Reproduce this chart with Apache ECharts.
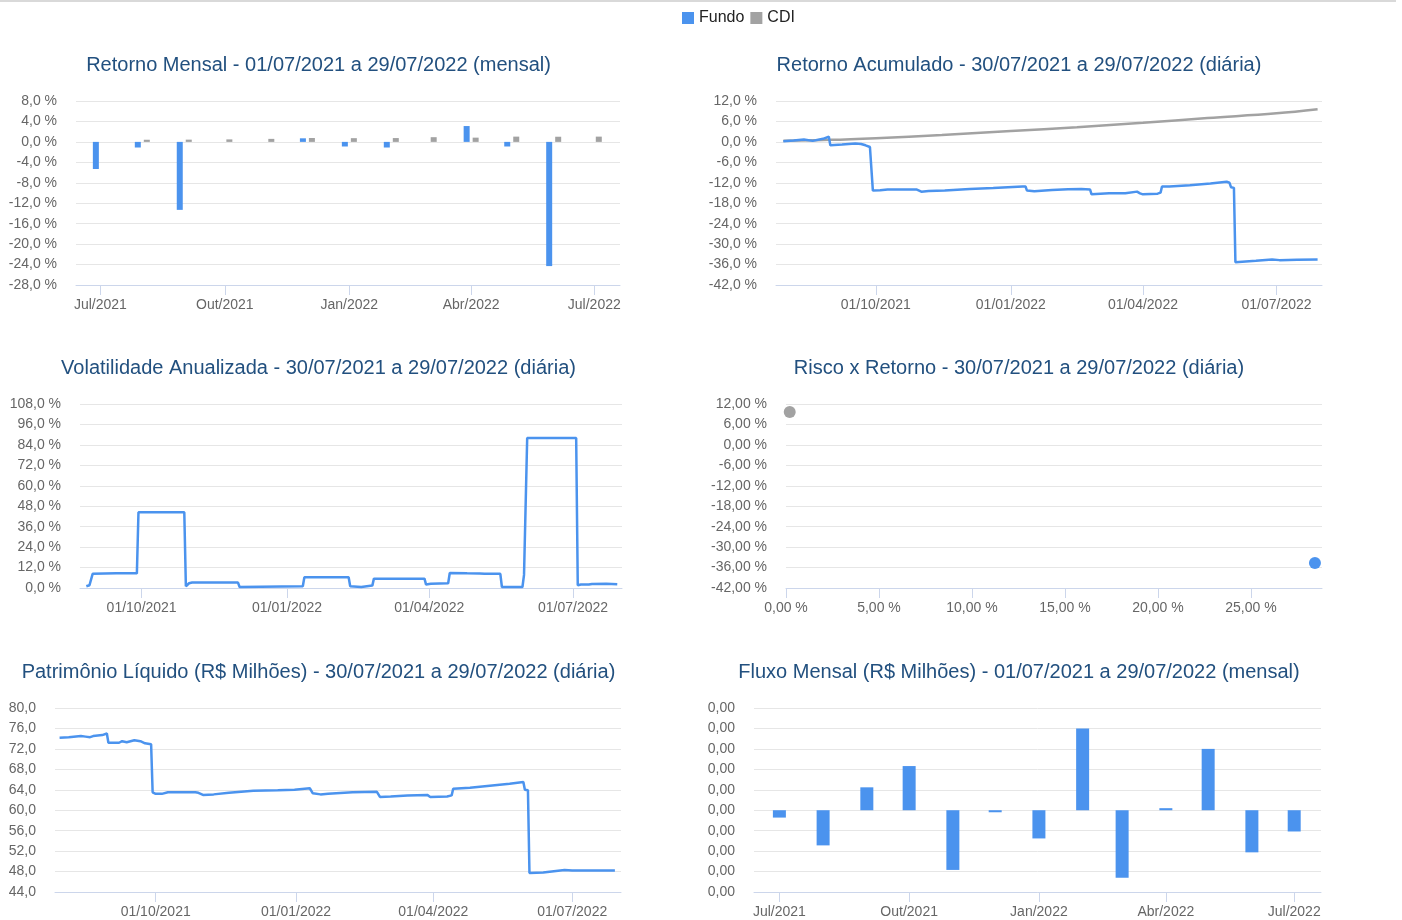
<!DOCTYPE html>
<html>
<head>
<meta charset="utf-8">
<title>Fundo x CDI</title>
<script src="https://cdn.jsdelivr.net/npm/echarts@6/dist/echarts.min.js"></script>
<style>
  html, body { margin: 0; padding: 0; background: #ffffff; }
  #chart { width: 1402px; height: 920px; }
</style>
</head>
<body>
<div id="chart"></div>
<script>
// ---------- data ----------
const seriesNames = ['Fundo', 'CDI'];

// month starts used by the monthly charts
const monthlyDates = ['2021-07-01', '2021-08-01', '2021-09-01', '2021-10-01', '2021-11-01', '2021-12-01',
  '2022-01-01', '2022-02-01', '2022-03-01', '2022-04-01', '2022-05-01', '2022-06-01', '2022-07-01'];

// axis tick positions
const monthTicks = ['2021-07-01', '2021-10-01', '2022-01-01', '2022-04-01', '2022-07-01'];
const dayTicks = ['2021-10-01', '2022-01-01', '2022-04-01', '2022-07-01'];
const riskTicks = [0, 5, 10, 15, 20, 25];

// Retorno Mensal (%)
const retornoMensalFundo = [-5.3, -1.1, -13.3, 0, 0, 0.7, -0.9, -1.1, 0, 3.1, -0.9, -24.3, 0];
const retornoMensalCDI = [null, 0.42, 0.44, 0.49, 0.59, 0.76, 0.73, 0.75, 0.92, 0.83, 1.03, 1.01, 1.03];

// Retorno Acumulado (%) - Fundo
const acumFundoDatas = ['2021-07-30', '2021-08-06', '2021-08-13', '2021-08-19', '2021-08-26', '2021-08-30',
  '2021-08-31', '2021-09-08', '2021-09-17', '2021-09-21', '2021-09-24', '2021-09-27', '2021-09-28',
  '2021-09-29', '2021-09-30', '2021-10-04', '2021-10-09', '2021-10-29', '2021-11-01', '2021-11-06',
  '2021-11-17', '2021-12-04', '2021-12-20', '2022-01-09', '2022-01-11', '2022-01-12', '2022-01-17',
  '2022-01-29', '2022-02-09', '2022-02-18', '2022-02-24', '2022-02-25', '2022-03-09', '2022-03-20',
  '2022-03-28', '2022-03-30', '2022-04-01', '2022-04-11', '2022-04-13', '2022-04-14', '2022-04-19',
  '2022-05-03', '2022-05-17', '2022-05-28', '2022-05-30', '2022-05-31', '2022-06-02', '2022-06-03',
  '2022-06-04', '2022-06-17', '2022-06-28', '2022-07-03', '2022-07-15', '2022-07-29'];
const acumFundoValores = [0.2, 0.4, 0.7, 0.3, 0.9, 1.5,
  -1.0, -0.8, -0.5, -0.6, -1.0, -1.5, -1.7,
  -14.3, -14.4, -14.2, -14.0, -14.0, -14.6, -14.4,
  -14.3, -13.8, -13.5, -13.1, -13.1, -14.3, -14.5,
  -14.1, -13.9, -13.8, -14.0, -15.4, -15.1, -15.1,
  -14.6, -15.1, -15.4, -15.2, -14.9, -13.1, -13.1,
  -12.7, -12.2, -11.7, -12.0, -13.3, -13.5, -35.3,
  -35.1, -34.9, -34.5, -34.7, -34.6, -34.5];

// Retorno Acumulado (%) - CDI
const acumCDIDatas = ['2021-07-30', '2021-08-31', '2021-10-01', '2021-11-15', '2022-01-01', '2022-02-15',
  '2022-04-01', '2022-05-15', '2022-07-01', '2022-07-29'];
const acumCDIValores = [0.3, 0.6, 1.1, 2.0, 3.2, 4.3, 5.6, 7.0, 8.4, 9.6];

// Volatilidade Anualizada (%)
const volDatas = ['2021-08-27', '2021-08-29', '2021-08-30', '2021-08-31', '2021-09-15', '2021-09-28',
  '2021-09-29', '2021-10-28', '2021-10-29', '2021-10-31', '2021-11-02', '2021-12-01', '2021-12-02',
  '2022-01-11', '2022-01-12', '2022-02-09', '2022-02-10', '2022-02-17', '2022-02-18', '2022-02-24',
  '2022-02-25', '2022-03-29', '2022-03-30', '2022-04-02', '2022-04-13', '2022-04-14', '2022-04-25',
  '2022-05-03', '2022-05-06', '2022-05-16', '2022-05-17', '2022-05-30', '2022-05-31', '2022-06-01',
  '2022-06-02', '2022-07-03', '2022-07-04', '2022-07-06', '2022-07-11', '2022-07-13', '2022-07-22',
  '2022-07-29'];
const volValores = [1.0, 1.6, 2.0, 8.3, 8.6, 8.6,
  44.5, 44.5, 1.0, 2.8, 3.2, 3.2, 0.6,
  1.0, 6.3, 6.3, 1.0, 0.6, 1.4, 1.4,
  5.5, 5.5, 2.0, 2.5, 2.8, 8.8, 8.6,
  8.5, 8.3, 8.3, 0.6, 0.6, 7.7, 8.0,
  88.0, 88.0, 1.6, 2.0, 2.0, 2.4, 2.5,
  2.2];

// Risco x Retorno: [volatilidade %, retorno %]
const riscoRetornoFundo = [28.44, -34.66];
const riscoRetornoCDI = [0.2, 9.65];

// Patrimônio Líquido (R$ milhões)
const plDatas = ['2021-07-30', '2021-08-05', '2021-08-13', '2021-08-16', '2021-08-19', '2021-08-21',
  '2021-08-27', '2021-08-30', '2021-08-31', '2021-09-07', '2021-09-09', '2021-09-12', '2021-09-17',
  '2021-09-21', '2021-09-24', '2021-09-28', '2021-09-29', '2021-10-01', '2021-10-05', '2021-10-09',
  '2021-10-27', '2021-10-29', '2021-11-01', '2021-11-08', '2021-11-18', '2021-12-04', '2021-12-20',
  '2021-12-31', '2022-01-10', '2022-01-12', '2022-01-17', '2022-01-22', '2022-02-07', '2022-02-23',
  '2022-02-24', '2022-02-25', '2022-03-04', '2022-03-15', '2022-03-28', '2022-03-30', '2022-04-10',
  '2022-04-13', '2022-04-14', '2022-04-25', '2022-05-08', '2022-05-21', '2022-05-30', '2022-05-31',
  '2022-06-02', '2022-06-03', '2022-06-12', '2022-06-26', '2022-07-01', '2022-07-11', '2022-07-22',
  '2022-07-29'];
const plValores = [74.2, 74.3, 74.5, 74.4, 74.3, 74.5,
  74.7, 75.0, 73.2, 73.2, 73.5, 73.3, 73.7,
  73.5, 73.1, 72.9, 63.5, 63.2, 63.2, 63.5,
  63.5, 63.4, 63.0, 63.1, 63.4, 63.8, 63.9,
  64.0, 64.3, 63.3, 63.1, 63.2, 63.5, 63.6,
  63.5, 62.6, 62.7, 62.9, 63.0, 62.6, 62.7,
  62.9, 64.2, 64.4, 64.8, 65.2, 65.5, 64.0,
  63.9, 47.7, 47.8, 48.3, 48.2, 48.2, 48.2,
  48.2];

// Fluxo Mensal (R$ milhões)
const fluxoMensal = [-0.00018, -0.00086, 0.00056, 0.00108, -0.00146, -0.00005, -0.00069,
  0.002, -0.00165, 0.00005, 0.0015, -0.00103, -0.00052];

// ---------- styling ----------
const FONT = '"Liberation Sans", Arial, Helvetica, sans-serif';
const AXIS_BLUE = '#ccd6eb';
const GRID_GRAY = '#e6e6e6';
const LABEL_GRAY = '#666666';
const TITLE_BLUE = '#22507f';
const BLUE = '#4b93ee';
const GRAY = '#a2a2a2';
const LINE_W = 2.5;

// ---------- helpers ----------
// dates are placed on a linear axis as millisecond timestamps
function toTime(s) {
  const p = s.split('-').map(Number);
  return new Date(p[0], p[1] - 1, p[2]).getTime();
}
const MESES = ['Jan', 'Fev', 'Mar', 'Abr', 'Mai', 'Jun', 'Jul', 'Ago', 'Set', 'Out', 'Nov', 'Dez'];
const pad2 = n => (n < 10 ? '0' : '') + n;
const fmtMes = v => { const d = new Date(v); return MESES[d.getMonth()] + '/' + d.getFullYear(); };
const fmtDia = v => { const d = new Date(v); return pad2(d.getDate()) + '/' + pad2(d.getMonth() + 1) + '/' + d.getFullYear(); };
function fmtNum(v, dec) {
  const f = Math.pow(10, dec);
  let r = Math.round(v * f) / f;
  if (r === 0) r = 0; // drop negative zero
  return r.toFixed(dec).replace('.', ',');
}
const fmtPct = dec => v => fmtNum(v, dec) + ' %';

function pairs(dates, values) {
  const out = [];
  dates.forEach((d, i) => { if (values[i] !== null && values[i] !== undefined) out.push([toTime(d), values[i]]); });
  return out;
}

function bottomAxis(gridIndex, min, max, ticks, formatter) {
  return {
    type: 'value', gridIndex: gridIndex, min: min, max: max,
    axisLine: { show: true, onZero: false, lineStyle: { color: AXIS_BLUE, width: 1 } },
    axisTick: { show: true, length: 10, lineStyle: { color: AXIS_BLUE, width: 1 }, customValues: ticks },
    axisLabel: { customValues: ticks, formatter: formatter, color: LABEL_GRAY, fontSize: 14, fontFamily: FONT, margin: 13 },
    splitLine: { show: false }, minorTick: { show: false }
  };
}

function dateAxis(gridIndex, min, max, ticks, formatter) {
  return bottomAxis(gridIndex, toTime(min), toTime(max), ticks.map(toTime), formatter);
}

function valueAxis(gridIndex, min, max, interval, formatter) {
  return {
    type: 'value', gridIndex: gridIndex, min: min, max: max, interval: interval,
    axisLine: { show: false }, axisTick: { show: false },
    splitLine: { show: true, lineStyle: { color: GRID_GRAY, width: 1 } },
    axisLabel: { formatter: formatter, color: LABEL_GRAY, fontSize: 14, fontFamily: FONT, margin: 19 }
  };
}

function titleText(x, y, text) {
  return {
    type: 'text', x: x, y: y, silent: true,
    style: { text: text, fill: TITLE_BLUE, font: '20px ' + FONT, align: 'center', verticalAlign: 'middle' }
  };
}

// ---------- chart ----------
const chart = echarts.init(document.getElementById('chart'), null, { renderer: 'canvas' });

const option = {
  animation: false,
  backgroundColor: '#ffffff',
  textStyle: { fontFamily: FONT },
  legend: {
    data: seriesNames.map(n => ({ name: n, icon: 'rect' })),
    left: 682, top: 10, padding: 0, itemWidth: 12, itemHeight: 12, itemGap: 6,
    textStyle: { fontSize: 16, color: '#222222', fontFamily: FONT }
  },
  graphic: [
    { type: 'rect', shape: { x: 0, y: 0, width: 1396, height: 2 }, style: { fill: '#d9d9d9' }, silent: true },
    titleText(318.5, 65, 'Retorno Mensal - 01/07/2021 a 29/07/2022 (mensal)'),
    titleText(1019, 65, 'Retorno Acumulado - 30/07/2021 a 29/07/2022 (diária)'),
    titleText(318.5, 368, 'Volatilidade Anualizada - 30/07/2021 a 29/07/2022 (diária)'),
    titleText(1019, 368, 'Risco x Retorno - 30/07/2021 a 29/07/2022 (diária)'),
    titleText(318.5, 672, 'Patrimônio Líquido (R$ Milhões) - 30/07/2021 a 29/07/2022 (diária)'),
    titleText(1019, 672, 'Fluxo Mensal (R$ Milhões) - 01/07/2021 a 29/07/2022 (mensal)')
  ],
  grid: [
    { left: 76, top: 101, width: 544, height: 184 },
    { left: 776, top: 101, width: 546, height: 184 },
    { left: 80, top: 404, width: 542, height: 184 },
    { left: 786, top: 404, width: 536, height: 184 },
    { left: 55, top: 708, width: 566, height: 184 },
    { left: 754, top: 708, width: 567, height: 184 }
  ],
  xAxis: [
    dateAxis(0, '2021-06-13', '2022-07-20', monthTicks, fmtMes),
    dateAxis(1, '2021-07-25', '2022-08-01', dayTicks, fmtDia),
    dateAxis(2, '2021-08-23', '2022-08-01', dayTicks, fmtDia),
    bottomAxis(3, 0, 28.82, riskTicks, fmtPct(2)),
    dateAxis(4, '2021-07-27', '2022-08-02', dayTicks, fmtDia),
    dateAxis(5, '2021-06-13', '2022-07-20', monthTicks, fmtMes)
  ],
  yAxis: [
    valueAxis(0, -28, 8, 4, fmtPct(1)),
    valueAxis(1, -42, 12, 6, fmtPct(1)),
    valueAxis(2, 0, 108, 12, fmtPct(1)),
    valueAxis(3, -42, 12, 6, fmtPct(2)),
    valueAxis(4, 44, 80, 4, v => fmtNum(v, 1)),
    valueAxis(5, -0.002, 0.0025, 0.0005, v => fmtNum(v, 2))
  ],
  series: [
    // Retorno Mensal
    { name: 'Fundo', type: 'bar', xAxisIndex: 0, yAxisIndex: 0, barWidth: 6, barGap: '50%',
      itemStyle: { color: BLUE }, data: pairs(monthlyDates, retornoMensalFundo) },
    { name: 'CDI', type: 'bar', xAxisIndex: 0, yAxisIndex: 0, barWidth: 6, barGap: '50%',
      itemStyle: { color: GRAY }, data: pairs(monthlyDates, retornoMensalCDI) },
    // Retorno Acumulado
    { name: 'CDI', type: 'line', xAxisIndex: 1, yAxisIndex: 1, smooth: 0.4, showSymbol: false,
      lineStyle: { color: GRAY, width: LINE_W }, itemStyle: { color: GRAY }, data: pairs(acumCDIDatas, acumCDIValores) },
    { name: 'Fundo', type: 'line', xAxisIndex: 1, yAxisIndex: 1, showSymbol: false,
      lineStyle: { color: BLUE, width: LINE_W }, itemStyle: { color: BLUE }, data: pairs(acumFundoDatas, acumFundoValores) },
    // Volatilidade Anualizada
    { name: 'Fundo', type: 'line', xAxisIndex: 2, yAxisIndex: 2, showSymbol: false,
      lineStyle: { color: BLUE, width: LINE_W }, itemStyle: { color: BLUE }, data: pairs(volDatas, volValores) },
    // Risco x Retorno
    { name: 'CDI', type: 'scatter', xAxisIndex: 3, yAxisIndex: 3, symbolSize: 12,
      itemStyle: { color: GRAY, opacity: 1 }, data: [riscoRetornoCDI] },
    { name: 'Fundo', type: 'scatter', xAxisIndex: 3, yAxisIndex: 3, symbolSize: 12,
      itemStyle: { color: BLUE, opacity: 1 }, data: [riscoRetornoFundo] },
    // Patrimônio Líquido
    { name: 'Fundo', type: 'line', xAxisIndex: 4, yAxisIndex: 4, showSymbol: false,
      lineStyle: { color: BLUE, width: LINE_W }, itemStyle: { color: BLUE }, data: pairs(plDatas, plValores) },
    // Fluxo Mensal
    { name: 'Fundo', type: 'bar', xAxisIndex: 5, yAxisIndex: 5, barWidth: 13,
      itemStyle: { color: BLUE }, data: pairs(monthlyDates, fluxoMensal) }
  ]
};

chart.setOption(option);
</script>
</body>
</html>
